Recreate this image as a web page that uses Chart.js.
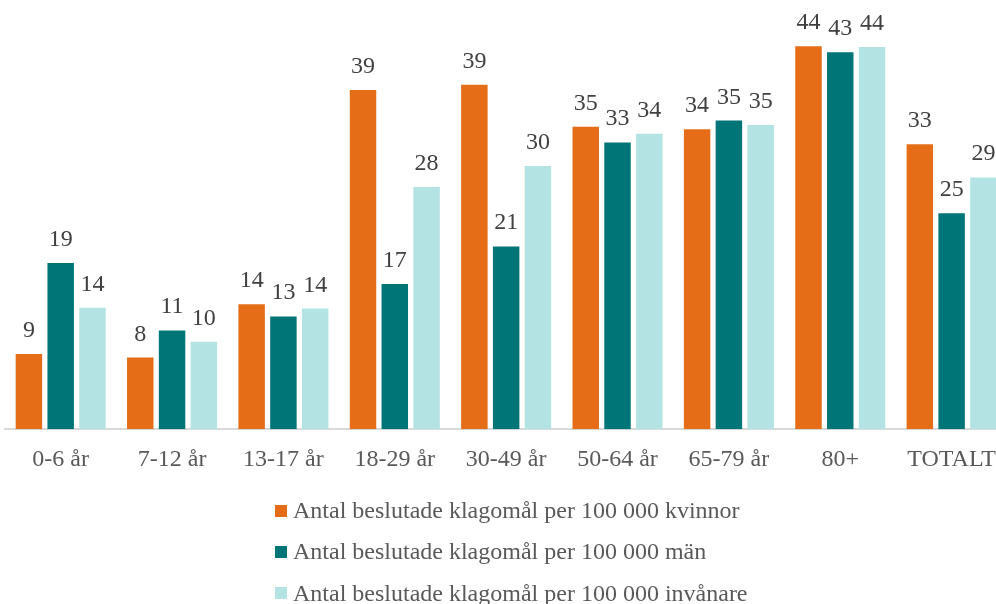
<!DOCTYPE html>
<html lang="sv">
<head>
<meta charset="utf-8">
<script src="https://cdn.jsdelivr.net/npm/chart.js@4/dist/chart.umd.min.js"></script>
<style>
  html, body { margin: 0; padding: 0; background: #fff; overflow: hidden; width: 996px; height: 604px; }
  #wrap { position: relative; width: 1012px; height: 604px; }
  #chart { position: absolute; left: 0; top: 0; }
  #legend { position: absolute; left: 275px; top: 490px; font-family: "Liberation Serif", "DejaVu Serif", serif; font-size: 24px; color: #595959; }
  #legend .item { display: flex; align-items: center; height: 41.3px; white-space: nowrap; }
  #legend .box { width: 12px; height: 12px; margin-right: 6px; }
</style>
</head>
<body>
<div id="wrap">
  <canvas id="chart" width="1012" height="495"></canvas>
  <div id="legend"></div>
</div>
<script>
// Categories and series values
const categories = ["0-6 år", "7-12 år", "13-17 år", "18-29 år", "30-49 år", "50-64 år", "65-79 år", "80+", "TOTALT"];
const kvinnor = [8.6, 8.2, 14.3, 38.8, 39.4, 34.6, 34.3, 43.8, 32.6];
const man = [19.0, 11.3, 12.9, 16.6, 20.9, 32.8, 35.3, 43.1, 24.7];
const invanare = [13.9, 10.0, 13.8, 27.7, 30.1, 33.8, 34.8, 43.7, 28.8];
const seriesNames = [
  "Antal beslutade klagomål per 100 000 kvinnor",
  "Antal beslutade klagomål per 100 000 män",
  "Antal beslutade klagomål per 100 000 invånare"
];

const FONT = '"Liberation Serif", "DejaVu Serif", serif';

// Value labels above each bar
const barLabels = {
  id: "barLabels",
  afterDatasetsDraw(chart) {
    const ctx = chart.ctx;
    ctx.save();
    ctx.font = "24px " + FONT;
    ctx.fillStyle = "#404040";
    ctx.textAlign = "center";
    ctx.textBaseline = "alphabetic";
    chart.data.datasets.forEach((ds, i) => {
      chart.getDatasetMeta(i).data.forEach((bar, j) => {
        ctx.fillText(Math.round(ds.data[j]), bar.x, bar.y - 17);
      });
    });
    ctx.restore();
  }
};

const ctx = document.getElementById("chart").getContext("2d");
const chart = new Chart(ctx, {
  type: "bar",
  data: {
    labels: categories,
    datasets: [
      { label: seriesNames[0], data: kvinnor, backgroundColor: "#E56D17" },
      { label: seriesNames[1], data: man, backgroundColor: "#007577" },
      { label: seriesNames[2], data: invanare, backgroundColor: "#B3E4E3" }
    ]
  },
  options: {
    responsive: false,
    animation: false,
    devicePixelRatio: 1,
    categoryPercentage: 0.856,
    barPercentage: 0.833,
    layout: { padding: { top: 9.5, left: 5, right: 0, bottom: 5 } },
    plugins: {
      legend: { display: false },
      tooltip: { enabled: false }
    },
    scales: {
      x: {
        grid: { display: false, drawTicks: false },
        border: { display: true, color: "#D9D9D9", width: 2 },
        ticks: { color: "#595959", font: { family: FONT, size: 24 }, padding: 16, maxRotation: 0, autoSkip: false }
      },
      y: {
        display: false,
        min: 0,
        max: 48
      }
    }
  },
  plugins: [barLabels]
});

// Legend as a vertical list below the chart
const legendEl = document.getElementById("legend");
chart.data.datasets.forEach(ds => {
  const item = document.createElement("div");
  item.className = "item";
  const box = document.createElement("span");
  box.className = "box";
  box.style.background = ds.backgroundColor;
  const text = document.createElement("span");
  text.textContent = ds.label;
  item.appendChild(box);
  item.appendChild(text);
  legendEl.appendChild(item);
});
</script>
</body>
</html>
